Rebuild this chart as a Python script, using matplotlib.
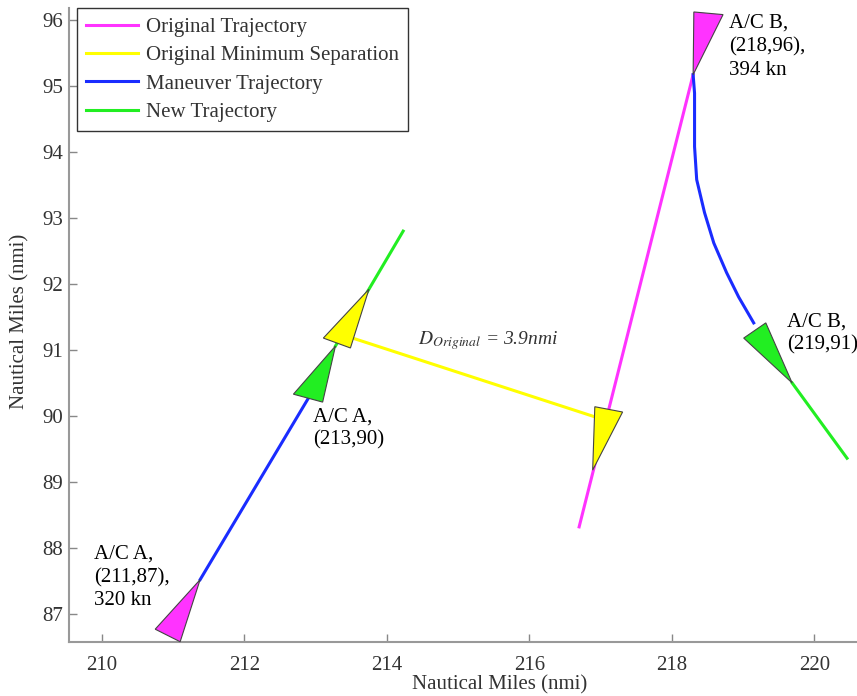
import matplotlib
matplotlib.use("Agg")
import matplotlib.pyplot as plt
from matplotlib.patches import Polygon

plt.rcParams['font.family'] = ['Liberation Serif', 'DejaVu Serif']
plt.rcParams['mathtext.fontset'] = 'stix'

# trayectoria original del avion B
orig_x = [218.30, 216.70]
orig_y = [95.17, 88.32]

# separacion minima original (A -> B)
sep_x = [213.52, 216.94]
sep_y = [91.18, 89.98]

# maniobra A (recta) y B (curva)
manA_x = [211.38, 212.90]
manA_y = [87.52, 90.27]
manB_x = [218.30, 218.32, 218.32, 218.32, 218.35, 218.46, 218.59, 218.77, 218.94, 219.15]
manB_y = [95.17, 94.89, 94.50, 94.08, 93.58, 93.08, 92.62, 92.17, 91.80, 91.41]

# nueva trayectoria
newA_x = [213.28, 214.23]
newA_y = [91.06, 92.80]
newB_x = [219.69, 220.46]
newB_y = [90.50, 89.36]

# triangulos (vertices) de cada avion
tri_A0 = [(210.75, 86.77), (211.10, 86.58), (211.38, 87.52)]
tri_A1 = [(212.69, 90.33), (213.10, 90.21), (213.28, 91.06)]
tri_A2 = [(213.11, 91.18), (213.49, 91.03), (213.75, 91.92)]
tri_B0 = [(218.31, 96.12), (218.72, 96.08), (218.30, 95.17)]
tri_B1 = [(219.01, 91.18), (219.32, 91.41), (219.69, 90.50)]
tri_B2 = [(216.92, 90.14), (217.31, 90.06), (216.89, 89.18)]

xticks = [210, 212, 214, 216, 218, 220]
yticks = [87, 88, 89, 90, 91, 92, 93, 94, 95, 96]

fig = plt.figure(figsize=(8.57, 6.96), dpi=100)
ax = fig.add_axes([69 / 857, 1 - 642 / 696, 788 / 857, 634 / 696])

lw = 2.2
ax.plot(orig_x, orig_y, color='#ff33ff', lw=lw, label='Original Trajectory')
ax.plot(sep_x, sep_y, color='#ffff00', lw=lw, label='Original Minimum Separation')
ax.plot(manA_x, manA_y, color='#1a2cff', lw=lw, label='Maneuver Trajectory')
ax.plot(manB_x, manB_y, color='#1a2cff', lw=lw)
ax.plot(newA_x, newA_y, color='#22ee22', lw=lw, label='New Trajectory')
ax.plot(newB_x, newB_y, color='#22ee22', lw=lw)

for tri, col in [(tri_A0, '#ff33ff'), (tri_B0, '#ff33ff'),
                 (tri_A1, '#22ee22'), (tri_B1, '#22ee22'),
                 (tri_A2, '#ffff00'), (tri_B2, '#ffff00')]:
    ax.add_patch(Polygon(tri, closed=True, facecolor=col, edgecolor='#444444',
                         lw=0.8, zorder=5, clip_on=False))

fs = 15
ls = 1.3
ax.text(209.89, 88.05, 'A/C A,\n(211,87),\n320 kn', fontsize=fs, va='top', linespacing=ls)
ax.text(212.96, 90.13, 'A/C A,\n(213,90)', fontsize=fs, va='top', linespacing=ls)
ax.text(218.80, 96.09, 'A/C B,\n(218,96),\n394 kn', fontsize=fs, va='top', linespacing=ls)
ax.text(219.62, 91.57, 'A/C B,\n(219,91)', fontsize=fs, va='top', linespacing=ls)
ax.text(214.44, 91.08, r'$D_{Original}$ = 3.9nmi', fontsize=14, style='italic',
        color='#333333', va='baseline')

ax.set_xlim(209.54, 220.6)
ax.set_ylim(86.576, 96.18)
ax.set_xticks(xticks)
ax.set_yticks(yticks)
ax.tick_params(direction='in', length=6, width=1, color='#888888',
               labelcolor='#333333', labelsize=fs)
ax.tick_params(axis='x', pad=10)
ax.tick_params(axis='y', pad=4)
for s in ['top', 'right']:
    ax.spines[s].set_visible(False)
for s in ['left', 'bottom']:
    ax.spines[s].set_color('#999999')
    ax.spines[s].set_linewidth(1.5)

ax.set_xlabel('Nautical Miles (nmi)', fontsize=fs, color='#333333')
ax.set_ylabel('Nautical Miles (nmi)', fontsize=fs, color='#333333')
ax.xaxis.set_label_coords((500 - 69) / 788, -0.052)
ax.yaxis.set_label_coords(-0.05, 0.505)

leg = ax.legend(loc='upper left', bbox_to_anchor=(8 / 788, 1.0), borderaxespad=0,
                fontsize=fs, fancybox=False, framealpha=1, edgecolor='#333333',
                handlelength=2.5, labelspacing=0.42, borderpad=0.45, handletextpad=0.35)
leg.get_frame().set_linewidth(1.0)
for t in leg.get_texts():
    t.set_color('#333333')

fig.savefig('out.png', dpi=100)
